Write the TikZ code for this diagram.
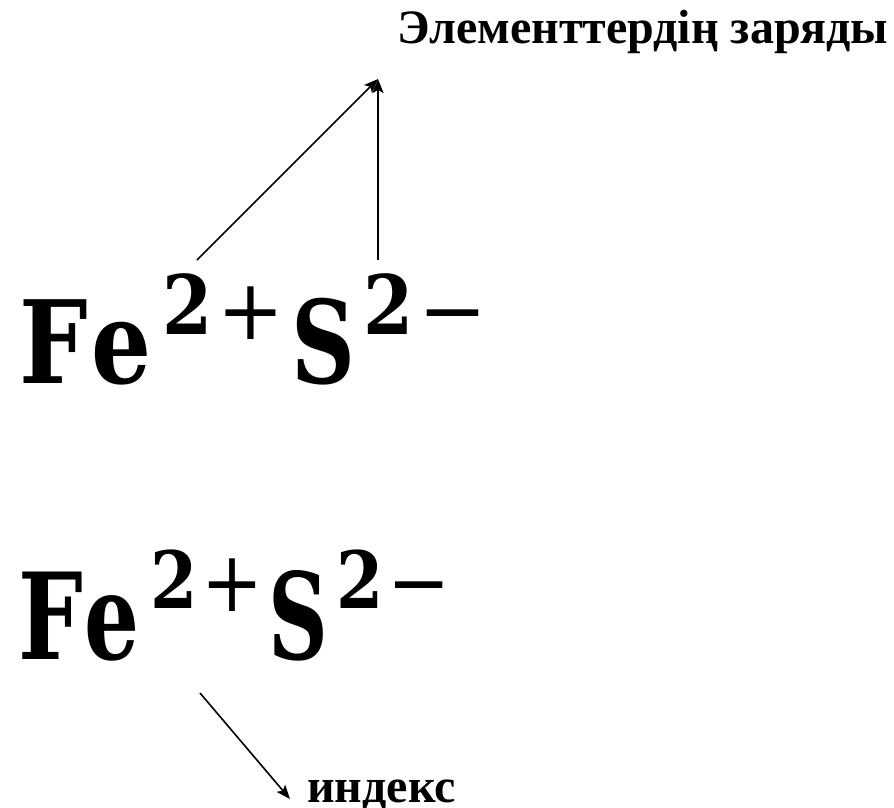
\documentclass[tikz,border=0pt]{standalone}
\usepackage{fontspec}
\setmainfont{Liberation Serif}
\newfontfamily\fmfont{DejaVu Serif}
\usetikzlibrary{arrows.meta}
% glyph: x offset, raise, xscale, font size, character
\newcommand{\glyph}[5]{\rlap{\kern#1pt\raisebox{#2pt}{\scalebox{#3}[1]{\fontsize{#4}{#4}\selectfont #5}}}}
\newcommand{\formulaA}{{\fmfont\bfseries
  \glyph{-4}{0}{0.84}{115}{F}%
  \glyph{68}{0}{0.82}{115}{e}%
  \glyph{139}{49}{0.88}{82}{2}%
  \glyph{194}{44}{0.95}{84}{\mdseries +}%
  \glyph{268}{0}{0.77}{115}{S}%
  \glyph{340}{49}{0.88}{82}{2}%
  \glyph{395}{44}{0.98}{84}{\mdseries\char"2212}%
  \kern460pt}}
\newcommand{\formulaB}{{\fmfont\bfseries
  \glyph{-4}{0}{0.76}{120}{F}%
  \glyph{62}{0}{0.72}{120}{e}%
  \glyph{128}{51}{0.86}{79}{2}%
  \glyph{179}{48}{0.88}{84}{\mdseries +}%
  \glyph{246}{0}{0.69}{120}{S}%
  \glyph{314}{51}{0.86}{79}{2}%
  \glyph{365}{48}{0.90}{84}{\mdseries\char"2212}%
  \kern422pt}}
\tikzset{
  lbl/.style={font=\bfseries\fontsize{48}{50}\selectfont, inner sep=0pt, anchor=base west},
  fml/.style={inner sep=0pt, anchor=base west},
  arr/.style={line width=1.6pt, -{Stealth[length=14pt,width=11pt,inset=3pt]}},
}
\begin{document}
\begin{tikzpicture}[x=1pt,y=1pt]
\useasboundingbox (0,0) rectangle (894,-807);
\node[lbl] (charge) at (397,-43) {Элементтердің заряды};
\node[fml] (f1) at (23,-383) {\formulaA};
\node[fml] (f2) at (22,-659) {\formulaB};
\node[lbl] (index) at (307,-802) {индекс};
\coordinate (tip) at (378,-79);
\coordinate (fe) at (197,-260);
\coordinate (s) at (378,-260);
\coordinate (sub) at (200,-693);
\coordinate (itip) at (290,-799);
\draw[arr] (fe) -- (tip);
\draw[arr] (s) -- (tip);
\draw[arr] (sub) -- (itip);
\end{tikzpicture}
\end{document}
